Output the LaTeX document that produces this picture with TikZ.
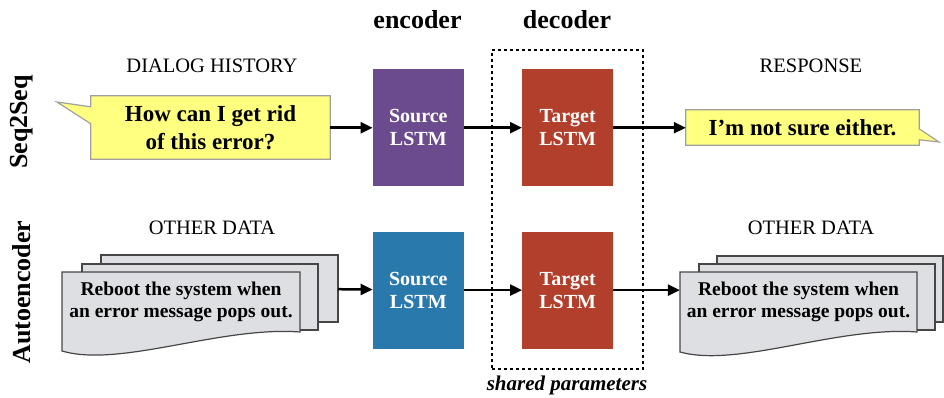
\documentclass[tikz,border=0pt]{standalone}
\usepackage{fontspec}
\setmainfont{Liberation Serif}
\usetikzlibrary{arrows.meta,backgrounds,calc,positioning}

\definecolor{srcpurple}{RGB}{108,74,142}
\definecolor{srcblue}{RGB}{42,121,172}
\definecolor{tgtred}{RGB}{178,62,44}
\definecolor{bubblefill}{RGB}{255,255,128}
\definecolor{bubbleedge}{RGB}{160,160,160}
\definecolor{docfill}{RGB}{222,223,227}
\definecolor{docedge}{RGB}{70,70,70}

\newcommand{\sizept}[1]{\fontsize{#1}{#1}\selectfont}

\begin{document}
\begin{tikzpicture}[x=1pt,y=-1pt,
    head/.style={font=\sizept{26}\bfseries},
    caption/.style={font=\sizept{20.5}},
    lstm/.style={rectangle,minimum width=91pt,minimum height=117pt,inner sep=0pt,
      text=white,align=center,font=\fontsize{20}{23}\selectfont\bfseries},
    saying/.style={inner sep=0pt,align=center,font=\fontsize{23}{28}\selectfont\bfseries},
    doctext/.style={inner sep=0pt,minimum width=237pt,align=center,
      font=\fontsize{19.5}{22}\selectfont\bfseries},
    callout/.style={fill=bubblefill,draw=bubbleedge,line width=1.2pt},
    sheet/.style={fill=docfill,draw=docedge,line width=1.2pt},
    flow/.style={-{Triangle[length=12pt,width=11pt]},line width=2.5pt}]

  \useasboundingbox (0,0) rectangle (944,397);

  % headings
  \node[head] (enc) at (417.5,20) {encoder};
  \node[head] (dec) at (567,20) {decoder};
  \node[head,rotate=90] (s2s) at (22,122) {Seq2Seq};
  \node[head,rotate=90] (ae) at (22,292) {Autoencoder};

  \node[caption] (hist) at (212,66) {DIALOG HISTORY};
  \node[caption] (resp) at (811,66) {RESPONSE};
  \node[caption] (odin) at (212,228) {OTHER DATA};
  \node[caption] (odout) at (811,228) {OTHER DATA};

  % lstm blocks
  \node[lstm,fill=srcpurple] (src1) at (418.3,127.7) {Source\\LSTM};
  \node[lstm,fill=tgtred,right=58pt of src1] (tgt1) {Target\\LSTM};
  \node[lstm,fill=srcblue,below=45pt of src1] (src2) {Source\\LSTM};
  \node[lstm,fill=tgtred,right=58pt of src2] (tgt2) {Target\\LSTM};

  % shared decoder
  \node[draw,dash pattern=on 3pt off 3pt,line width=1.5pt,minimum width=151pt,
    minimum height=319pt,inner sep=0pt] (shared) at (567.5,209.5) {};
  \node[font=\sizept{21}\bfseries\itshape] (sharedlbl) at (567,385) {shared parameters};

  % speech bubbles
  \node[saying,minimum width=239pt,minimum height=63pt] (ask) at (210.5,127.5)
    {How can I get rid\\of this error?};
  \node[saying,minimum width=233pt,minimum height=35pt] (reply) at (802.5,127.5)
    {I’m not sure either.};

  % documents
  \node[doctext] (docin) at (181,302) {Reboot the system when\\an error message pops out.};
  \node[doctext] (docout) at (798.5,302) {Reboot the system when\\an error message pops out.};
  \coordinate (docinback) at (338,289.2);

  \begin{scope}[on background layer]
    \draw[callout] (ask.north west) -- (ask.north east) -- (ask.south east)
      -- (ask.south west) -- ($(ask.north west)+(0,28)$) -- (57,102)
      -- ($(ask.north west)+(0,11)$) -- cycle;
    \draw[callout] (reply.north west) -- (reply.north east) -- ($(reply.north east)+(0,19)$)
      -- (939,142) -- ($(reply.north east)+(0,30)$) -- (reply.south east)
      -- (reply.south west) -- cycle;

    \draw[sheet] (101,255) rectangle (338,322);
    \draw[sheet] (82,264) rectangle (318,330);
    \draw[sheet] (62,272) -- (300,272) -- (300,332)
      .. controls (220,326) and (120,368) .. (62,351) -- cycle;

    \draw[sheet] (717,256) rectangle (943,322);
    \draw[sheet] (699,264) rectangle (935,330);
    \draw[sheet] (680,272) -- (917,272) -- (917,332)
      .. controls (837,326) and (738,368) .. (680,352) -- cycle;
  \end{scope}

  % connections
  \draw[flow] (ask.east |- src1) -- (src1);
  \draw[flow] (src1) -- (tgt1);
  \draw[flow] (tgt1) -- (tgt1 -| reply.west);
  \draw[flow] (docinback) -- (src2);
  \draw[flow] (src2) -- (tgt2);
  \draw[flow] (tgt2) -- (tgt2 -| docout.west);

\end{tikzpicture}
\end{document}
